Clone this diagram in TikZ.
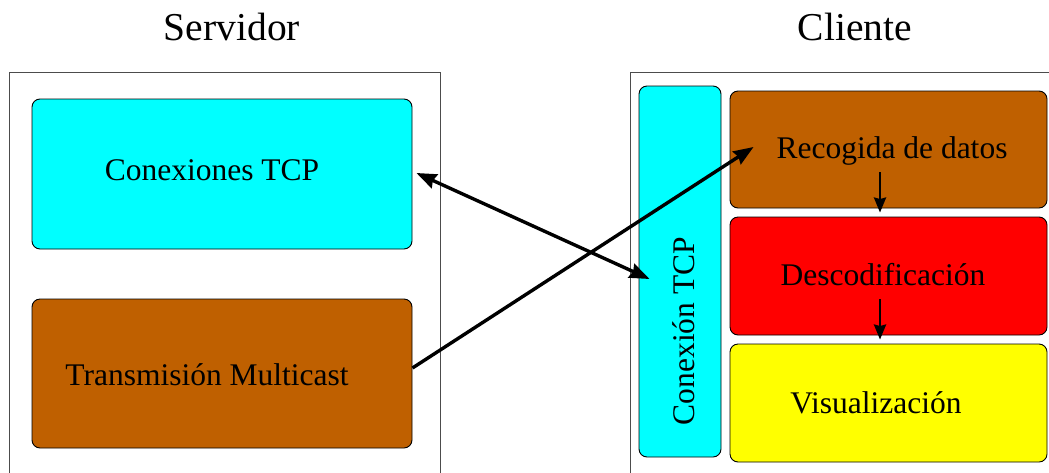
\documentclass[tikz,border=0pt]{standalone}
\usepackage{fontspec}
\setmainfont{Liberation Serif}
\newfontfamily\boxfont{Liberation Serif}
\usetikzlibrary{arrows.meta,calc}
\definecolor{brownbox}{RGB}{191,96,0}
\definecolor{cyanbox}{RGB}{0,255,255}
\definecolor{redbox}{RGB}{255,0,0}
\definecolor{yellowbox}{RGB}{255,255,0}
\tikzset{
  frame/.style={draw=black!70, line width=0.9pt, inner sep=0pt},
  block/.style={draw=black, line width=0.9pt, rounded corners=8pt, inner sep=0pt},
  title/.style={font=\boxfont\fontsize{39.5}{40}\selectfont, anchor=base},
  lbl/.style={font=\boxfont\fontsize{31.5}{32}\selectfont, anchor=base},
  link/.style={line width=3.4pt, -{Stealth[length=20pt,width=15pt,inset=2pt]}},
  flow/.style={line width=2.7pt, -{Stealth[length=15pt,width=12pt,inset=1.5pt]}}
}
\begin{document}
\begin{tikzpicture}[x=1pt,y=-1pt]
\useasboundingbox (0,0) rectangle (1049,472);

% titles
\node[title] (tsrv) at (232,40) {Servidor};
\node[title] (tcli) at (855,40) {Cliente};

% outer frames (open at the bottom / right edge of the page)
\node[frame, minimum width=431pt, minimum height=420pt, anchor=north west] (srv) at (9,72) {};
\node[frame, minimum width=440pt, minimum height=420pt, anchor=north west] (cli) at (630,72) {};

% server blocks
\node[block, fill=cyanbox, minimum width=380pt, minimum height=150pt] (tcp) at (222,174) {};
\node[lbl] (tcpt) at (212,180) {Conexiones TCP};
\node[block, fill=brownbox, minimum width=380pt, minimum height=149pt] (tm) at (222,373.5) {};
\node[lbl] (tmt) at (207,385) {Transmisión Multicast};

% client blocks
\node[block, fill=cyanbox, minimum width=82pt, minimum height=371pt] (tcpc) at (680,271.5) {};
\node[lbl, rotate=90] (tcpct) at (694,331) {Conexión TCP};
\node[block, fill=brownbox, minimum width=317pt, minimum height=117pt] (rec) at (888.5,149.5) {};
\node[lbl] (rect) at (892,158) {Recogida de datos};
\node[block, fill=redbox, minimum width=317pt, minimum height=118pt] (dec) at (888.5,276) {};
\node[lbl] (dect) at (883,285) {Descodificación};
\node[block, fill=yellowbox, minimum width=317pt, minimum height=118pt] (vis) at (888.5,403) {};
\node[lbl] (vist) at (876,413) {Visualización};

% connectors
\draw[link, {Stealth[length=20pt,width=15pt,inset=2pt]}-{Stealth[length=20pt,width=15pt,inset=2pt]}]
  ($(tcp.east)+(4,-1)$) -- ($(tcpc.west)+(11,7.5)$);
\draw[link] ($(tm.east)+(0,-5.5)$) -- ($(rec.west)+(24,-2.5)$);
\draw[flow] ($(rec.south)+(-8.5,-36)$) -- ($(dec.north)+(-8.5,-4)$);
\draw[flow] ($(dec.south)+(-8.5,-36)$) -- ($(vis.north)+(-8.5,-4)$);
\end{tikzpicture}
\end{document}
